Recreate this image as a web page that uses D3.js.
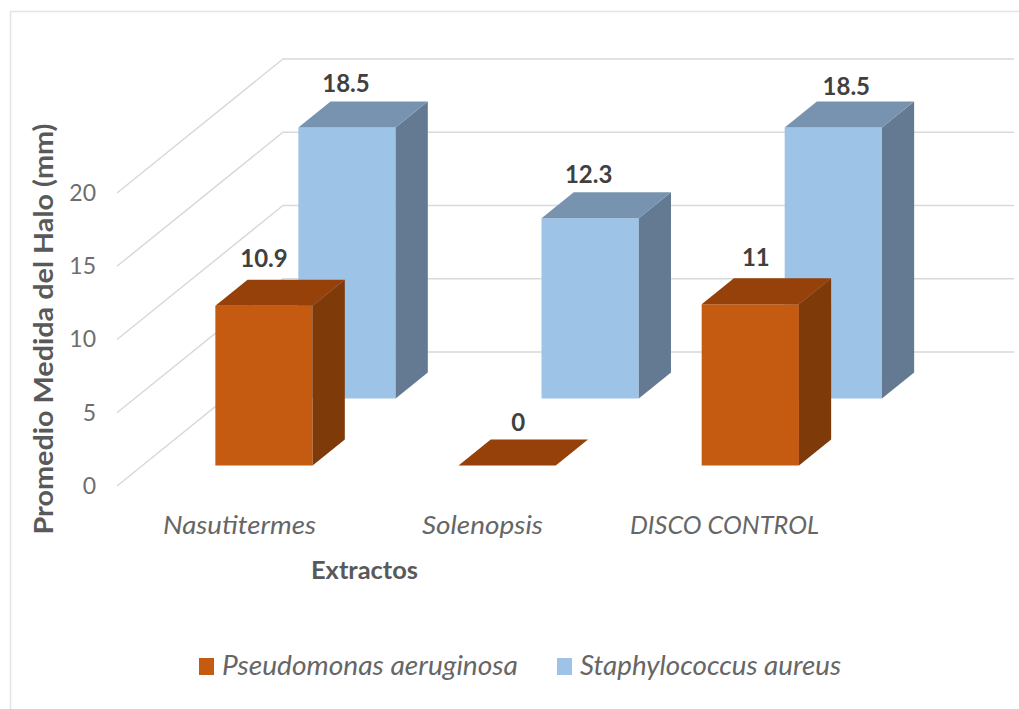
<!DOCTYPE html>
<html>
<head>
<meta charset="utf-8">
<script src="https://cdn.jsdelivr.net/npm/d3@7"></script>
<style>
  html, body { margin: 0; padding: 0; background: #fff; }
  svg { display: block; font-family: Lato, "Open Sans", sans-serif; }
</style>
</head>
<body>
<div id="chart"></div>
<script>
// Halo diameter per extract and bacterium
const categories = ["Nasutitermes", "Solenopsis", "DISCO CONTROL"];
const seriesNames = ["Pseudomonas aeruginosa", "Staphylococcus aureus"];
const pseudomonas = [10.9, 0, 11];
const staphylococcus = [18.5, 12.3, 18.5];
const yTicks = [0, 5, 10, 15, 20];
const valueLabels = [["10.9", "0", "11"], ["18.5", "12.3", "18.5"]];

const W = 1019, H = 709;
const svg = d3.select("#chart").append("svg").attr("width", W).attr("height", H);

// Oblique projection: the wall sits at full depth, the floor recedes up and to the right
const origin = { x: 117, y: 486 };
const depthRun = { x: 166, y: -134 };
const plotWidth = 729.5;
const gridWidth = 731;

const y = d3.scaleLinear().domain([0, 20]).range([origin.y, 193]);
const x = d3.scaleBand().domain(categories).range([0, plotWidth]).paddingInner(0.6).paddingOuter(0.3);
const depth = d3.scaleBand().domain(seriesNames).range([0, 1]).paddingInner(0.612).paddingOuter(0.306);

// Map (horizontal offset, value, depth fraction) to the screen
const project = (px, v, t) => [
  origin.x + px + depthRun.x * t,
  y(v) + depthRun.y * t
];
const poly = pts => pts.map(p => p.join(",")).join(" ");

// Stretch a label to a set width, keeping its height
const fit = (sel, width) => sel.attr("textLength", width).attr("lengthAdjust", "spacingAndGlyphs");

const styles = [
  { front: "#c55a11", top: "#964109", side: "#7f3a0a" },
  { front: "#9dc3e6", top: "#7893b0", side: "#647a93" }
];
const legendFill = ["#c55a11", "#9dc3e6"];

// Chart frame: only the top and left edges remain visible
const frame = "#e4e4e4";
svg.append("line").attr("x1", 10).attr("y1", 11.5).attr("x2", W).attr("y2", 11.5)
  .attr("stroke", frame).attr("stroke-width", 1.5);
svg.append("line").attr("x1", 10.5).attr("y1", 11).attr("x2", 10.5).attr("y2", H)
  .attr("stroke", frame).attr("stroke-width", 1.5);

// Gridlines run along the floor side, then across the back wall
const grid = svg.append("g").attr("fill", "none").attr("stroke", "#d9d9d9").attr("stroke-width", 1.5);
grid.selectAll("polyline").data(yTicks).join("polyline")
  .attr("points", d => poly([project(0, d, 0), project(0, d, 1), project(gridWidth, d, 1)]));

// Value axis
const axis = svg.append("g")
  .attr("transform", "translate(104,0)")
  .call(d3.axisLeft(y).tickValues(yTicks).tickSize(0).tickPadding(8));
axis.select(".domain").remove();
axis.selectAll("text").attr("font-family", "Lato, 'Open Sans', sans-serif")
  .attr("font-size", 23).attr("fill", "#6e6e6e");

// Rear row first so the front row overlaps it
const seriesValues = [pseudomonas, staphylococcus];
const bars = svg.append("g");
[1, 0].forEach(s => {
  const name = seriesNames[s];
  const t0 = depth(name), t1 = t0 + depth.bandwidth();
  const st = styles[s];
  const g = bars.append("g");
  seriesValues[s].forEach((v, i) => {
    const c = categories[i];
    const l = x(c), r = l + x.bandwidth();
    if (v > 0) {
      g.append("polygon").attr("fill", st.front)
        .attr("points", poly([project(l, 0, t0), project(r, 0, t0), project(r, v, t0), project(l, v, t0)]));
      g.append("polygon").attr("fill", st.side)
        .attr("points", poly([project(r, 0, t0), project(r, 0, t1), project(r, v, t1), project(r, v, t0)]));
    }
    g.append("polygon").attr("fill", st.top)
      .attr("points", poly([project(l, v, t0), project(r, v, t0), project(r, v, t1), project(l, v, t1)]));
  });
});

// Value labels, sitting above each bar's top face
const labelShift = [[0, 11, 5.5], [-1, -1.5, 13]];
const labelLift = [[47, 43, 47], [44, 44, 41]];
const labels = svg.append("g").attr("text-anchor", "middle")
  .attr("font-size", 24).attr("font-weight", 700).attr("fill", "#404040");
seriesValues.forEach((vals, s) => {
  const t0 = depth(seriesNames[s]);
  vals.forEach((v, i) => {
    const c = categories[i];
    const p = project(x(c) + x.bandwidth() / 2, v, t0);
    labels.append("text")
      .attr("x", p[0] + labelShift[s][i])
      .attr("y", p[1] - labelLift[s][i])
      .attr("dy", "0.35em")
      .text(valueLabels[s][i]);
  });
});

// Category labels
const catCenters = [239.5, 482.5, 724.5];
const catWidths = [153, 121, 189];
svg.append("g").attr("text-anchor", "middle").attr("font-style", "italic")
  .attr("font-size", 26).attr("fill", "#666")
  .selectAll("text").data(categories).join("text")
  .attr("x", (d, i) => catCenters[i])
  .attr("y", 525).attr("dy", "0.35em")
  .attr("textLength", (d, i) => catWidths[i])
  .attr("lengthAdjust", "spacingAndGlyphs")
  .text(d => d);

// Axis titles
svg.append("text").attr("x", 364.5).attr("y", 570).attr("dy", "0.35em")
  .attr("text-anchor", "middle").attr("font-size", 25).attr("font-weight", 700).attr("fill", "#595959")
  .call(fit, 107)
  .text("Extractos");
svg.append("text").attr("transform", "translate(44,329) rotate(-90)").attr("dy", "0.35em")
  .attr("text-anchor", "middle").attr("font-size", 26).attr("font-weight", 700).attr("fill", "#595959")
  .call(fit, 411)
  .text("Promedio Medida del Halo (mm)");

// Legend
const legendX = [199, 557];
const legendWidths = [296, 261];
const legend = svg.append("g").selectAll("g").data(seriesNames).join("g")
  .attr("transform", (d, i) => `translate(${legendX[i]},658)`);
legend.append("rect").attr("width", 15).attr("height", 17).attr("fill", (d, i) => legendFill[i]);
legend.append("text").attr("x", 23).attr("y", 8).attr("dy", "0.35em")
  .attr("font-size", 27).attr("font-style", "italic").attr("fill", "#666")
  .attr("textLength", (d, i) => legendWidths[i])
  .attr("lengthAdjust", "spacingAndGlyphs")
  .text(d => d);
</script>
</body>
</html>
